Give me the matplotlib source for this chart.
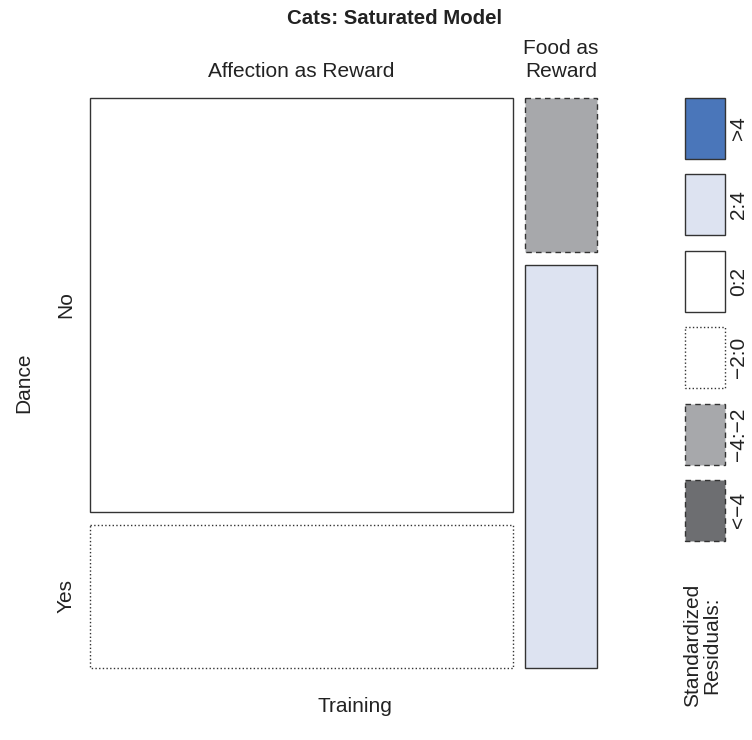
import matplotlib.pyplot as plt
from matplotlib.patches import Rectangle

plt.rcParams['font.family'] = ['Liberation Sans', 'DejaVu Sans']

# counts
training = ["Affection as Reward", "Food as\nReward"]
dance = ["No", "Yes"]
counts = [[127, 44],   # Affection: No, Yes
          [8, 21]]     # Food: No, Yes
# residual class of each cell (index into legend classes)
cell_class = [[2, 3],
              [4, 1]]

classes = [">4", "2:4", "0:2", "\u22122:0", "\u22124:\u22122", "<\u22124"]
class_fill = ["#4A76BA", "#DDE3F1", "white", "white", "#A7A8AB", "#6D6E71"]
class_ls = ["-", "-", "-", ":", (0, (4, 3)), (0, (4, 3))]

edge = "#333333"
tc = "#222222"
fs = 15

fig = plt.figure(figsize=(7.52, 7.40), dpi=100)
ax = fig.add_axes([90 / 752, 72 / 740, 507 / 752, 570 / 740])
ax.set_xlim(0, 1)
ax.set_ylim(1, 0)
ax.axis("off")

gx = 0.0237
gy = 0.0228
col_tot = [sum(c) for c in counts]
total = sum(col_tot)
x = 0
for i, col in enumerate(counts):
    w = (1 - gx) * col_tot[i] / total
    y = 0
    for j, n in enumerate(col):
        h = (1 - gy) * n / col_tot[i]
        k = cell_class[i][j]
        ax.add_patch(Rectangle((x, y), w, h, facecolor=class_fill[k], edgecolor=edge,
                               linestyle=class_ls[k], linewidth=1.0, clip_on=False))
        if i == 0:
            ax.text(-0.047, y + h / 2, dance[j], rotation=90, ha="center", va="center",
                    fontsize=fs, color=tc)
        y += h + gy
    ax.text(x + w / 2, -0.03, training[i], ha="center", va="bottom", fontsize=fs,
            color=tc, linespacing=1.25)
    x += w + gx

fig.text(355 / 752, 1 - 706 / 740, "Training", ha="center", va="center", fontsize=fs,
         color=tc)
fig.text(24 / 752, 1 - 383 / 740, "Dance", rotation=90, ha="center", va="center",
         fontsize=fs, color=tc)
fig.text(287 / 752, 1 - 18 / 740, "Cats: Saturated Model", ha="left", va="center",
         fontsize=14.7, fontweight="bold", color=tc)

# legend
lax = fig.add_axes([685 / 752, 199 / 740, 40 / 752, 443 / 740])
lax.set_xlim(0, 1)
lax.set_ylim(443, 0)
lax.axis("off")
bh = 61
pitch = (443 - bh) / (len(classes) - 1)
for k, lab in enumerate(classes):
    y0 = k * pitch
    lax.add_patch(Rectangle((0, y0), 1, bh, facecolor=class_fill[k], edgecolor=edge,
                            linestyle=class_ls[k], linewidth=1.0, clip_on=False))
    lax.text(1.33, y0 + bh / 2, lab, rotation=90, ha="center", va="center",
             fontsize=fs, color=tc)

fig.text(702 / 752, 1 - 707 / 740, "Standardized\nResiduals:", rotation=90,
         ha="center", va="bottom", fontsize=fs, color=tc, linespacing=1.0)

fig.savefig("out.png", dpi=100)
